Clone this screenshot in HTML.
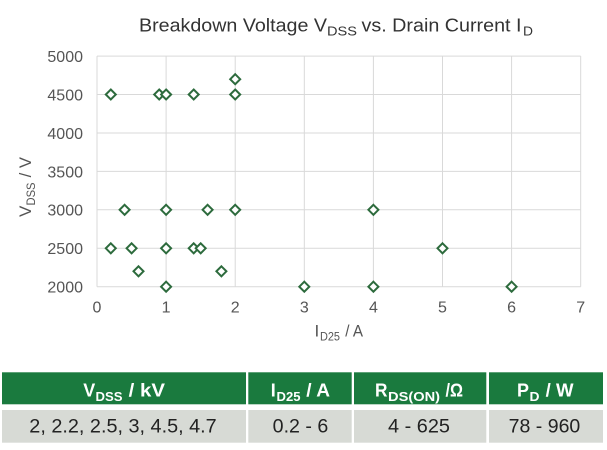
<!DOCTYPE html>
<html>
<head>
<meta charset="utf-8">
<style>
html,body{margin:0;padding:0;background:#fff;}
body{width:607px;height:450px;overflow:hidden;}
svg{display:block;}
text{white-space:pre;}
</style>
</head>
<body>
<svg width="607" height="450" viewBox="0 0 607 450" xmlns="http://www.w3.org/2000/svg" font-family="Liberation Sans, Arial, sans-serif">
  <defs>
    <polygon id="d" points="0,-5 5,0 0,5 -5,0" fill="#fff" stroke="#2d6b3d" stroke-width="2"/>
  </defs>
  <!-- title -->
  <g fill="#333" font-size="18">
    <text x="139" y="31.5" textLength="188" lengthAdjust="spacingAndGlyphs">Breakdown Voltage V</text>
    <text x="327" y="35.5" font-size="13" textLength="30" lengthAdjust="spacingAndGlyphs">DSS</text>
    <text x="361.5" y="31.5" textLength="160" lengthAdjust="spacingAndGlyphs">vs. Drain Current I</text>
    <text x="523" y="35.5" font-size="13" textLength="10" lengthAdjust="spacingAndGlyphs">D</text>
  </g>
  <!-- grid -->
  <g stroke="#d9d9d9" stroke-width="1">
    <line x1="97" y1="56.1" x2="580.7" y2="56.1"/>
    <line x1="97" y1="94.5" x2="580.7" y2="94.5"/>
    <line x1="97" y1="133" x2="580.7" y2="133"/>
    <line x1="97" y1="171.4" x2="580.7" y2="171.4"/>
    <line x1="97" y1="209.8" x2="580.7" y2="209.8"/>
    <line x1="97" y1="248.3" x2="580.7" y2="248.3"/>
    <line x1="97" y1="286.7" x2="580.7" y2="286.7"/>
    <line x1="97" y1="56.1" x2="97" y2="286.7"/>
    <line x1="166.1" y1="56.1" x2="166.1" y2="286.7"/>
    <line x1="235.2" y1="56.1" x2="235.2" y2="286.7"/>
    <line x1="304.3" y1="56.1" x2="304.3" y2="286.7"/>
    <line x1="373.4" y1="56.1" x2="373.4" y2="286.7"/>
    <line x1="442.5" y1="56.1" x2="442.5" y2="286.7"/>
    <line x1="511.6" y1="56.1" x2="511.6" y2="286.7"/>
    <line x1="580.7" y1="56.1" x2="580.7" y2="286.7"/>
  </g>
  <!-- y tick labels -->
  <g fill="#555" font-size="16" text-anchor="end">
    <text x="83" y="62">5000</text>
    <text x="83" y="100.4">4500</text>
    <text x="83" y="138.9">4000</text>
    <text x="83" y="177.3">3500</text>
    <text x="83" y="215.7">3000</text>
    <text x="83" y="254.2">2500</text>
    <text x="83" y="292.6">2000</text>
  </g>
  <!-- x tick labels -->
  <g fill="#555" font-size="16" text-anchor="middle">
    <text x="97" y="312.3">0</text>
    <text x="166.1" y="312.3">1</text>
    <text x="235.2" y="312.3">2</text>
    <text x="304.3" y="312.3">3</text>
    <text x="373.4" y="312.3">4</text>
    <text x="442.5" y="312.3">5</text>
    <text x="511.6" y="312.3">6</text>
    <text x="580.7" y="312.3">7</text>
  </g>
  <!-- x axis label -->
  <g fill="#555" font-size="17">
    <text x="314.5" y="336.7">I</text>
    <text x="320" y="340.7" font-size="12" textLength="20" lengthAdjust="spacingAndGlyphs">D25</text>
    <text x="341" y="336.7" textLength="22" lengthAdjust="spacingAndGlyphs">&#160;/ A</text>
  </g>
  <!-- y axis label -->
  <g fill="#555" font-size="17" transform="translate(31,217) rotate(-90)">
    <text x="0" y="0">V</text>
    <text x="11.5" y="4" font-size="12" textLength="23" lengthAdjust="spacingAndGlyphs">DSS</text>
    <text x="35" y="0" textLength="25" lengthAdjust="spacingAndGlyphs">&#160;/ V</text>
  </g>
  <!-- data points -->
  <g>
    <use href="#d" x="110.8" y="94.5"/>
    <use href="#d" x="159.2" y="94.5"/>
    <use href="#d" x="166.1" y="94.5"/>
    <use href="#d" x="193.7" y="94.5"/>
    <use href="#d" x="235.2" y="94.5"/>
    <use href="#d" x="235.2" y="79.2"/>

    <use href="#d" x="124.6" y="209.8"/>
    <use href="#d" x="166.1" y="209.8"/>
    <use href="#d" x="207.6" y="209.8"/>
    <use href="#d" x="235.2" y="209.8"/>
    <use href="#d" x="373.4" y="209.8"/>

    <use href="#d" x="110.8" y="248.3"/>
    <use href="#d" x="131.6" y="248.3"/>
    <use href="#d" x="166.1" y="248.3"/>
    <use href="#d" x="193.7" y="248.3"/>
    <use href="#d" x="200.7" y="248.3"/>
    <use href="#d" x="442.5" y="248.3"/>

    <use href="#d" x="138.5" y="271.3"/>
    <use href="#d" x="221.4" y="271.3"/>

    <use href="#d" x="166.1" y="286.7"/>
    <use href="#d" x="304.3" y="286.7"/>
    <use href="#d" x="373.4" y="286.7"/>
    <use href="#d" x="511.6" y="286.7"/>
  </g>
  <!-- table -->
  <g fill="#1a7a3e">
    <rect x="2" y="372.3" width="244" height="32"/>
    <rect x="248.3" y="372.3" width="103.4" height="32"/>
    <rect x="354" y="372.3" width="132.3" height="32"/>
    <rect x="489" y="372.3" width="114" height="32"/>
  </g>
  <g fill="#d7dad5">
    <rect x="2" y="410" width="244" height="32.7"/>
    <rect x="248.3" y="410" width="103.4" height="32.7"/>
    <rect x="354" y="410" width="132.3" height="32.7"/>
    <rect x="489" y="410" width="114" height="32.7"/>
  </g>
  <!-- header text -->
  <g fill="#fff" font-weight="bold" font-size="18">
    <text x="83.3" y="396.5" textLength="12" lengthAdjust="spacingAndGlyphs">V</text>
    <text x="95.5" y="401" font-size="13" textLength="27" lengthAdjust="spacingAndGlyphs">DSS</text>
    <text x="123" y="396.5" textLength="42" lengthAdjust="spacingAndGlyphs">&#160;/ kV</text>

    <text x="270.7" y="396.5" textLength="5" lengthAdjust="spacingAndGlyphs">I</text>
    <text x="276.5" y="401" font-size="13" textLength="24" lengthAdjust="spacingAndGlyphs">D25</text>
    <text x="301" y="396.5" textLength="29" lengthAdjust="spacingAndGlyphs">&#160;/ A</text>

    <text x="375" y="396.5" textLength="12.5" lengthAdjust="spacingAndGlyphs">R</text>
    <text x="388" y="401" font-size="13" textLength="52" lengthAdjust="spacingAndGlyphs">DS(ON)</text>
    <text x="441" y="396.5" textLength="22" lengthAdjust="spacingAndGlyphs">&#160;/Ω</text>

    <text x="517" y="396.5" textLength="12" lengthAdjust="spacingAndGlyphs">P</text>
    <text x="529.5" y="401" font-size="13" textLength="10" lengthAdjust="spacingAndGlyphs">D</text>
    <text x="540.5" y="396.5" textLength="33" lengthAdjust="spacingAndGlyphs">&#160;/ W</text>
  </g>
  <!-- data text -->
  <g fill="#222" font-size="19">
    <text x="29.3" y="432.7" textLength="187.4" lengthAdjust="spacingAndGlyphs">2, 2.2, 2.5, 3, 4.5, 4.7</text>
    <text x="272.7" y="432.7" textLength="55.6" lengthAdjust="spacingAndGlyphs">0.2 - 6</text>
    <text x="388" y="432.7" textLength="62" lengthAdjust="spacingAndGlyphs">4 - 625</text>
    <text x="508.7" y="432.7" textLength="71.6" lengthAdjust="spacingAndGlyphs">78 - 960</text>
  </g>
</svg>
</body>
</html>
